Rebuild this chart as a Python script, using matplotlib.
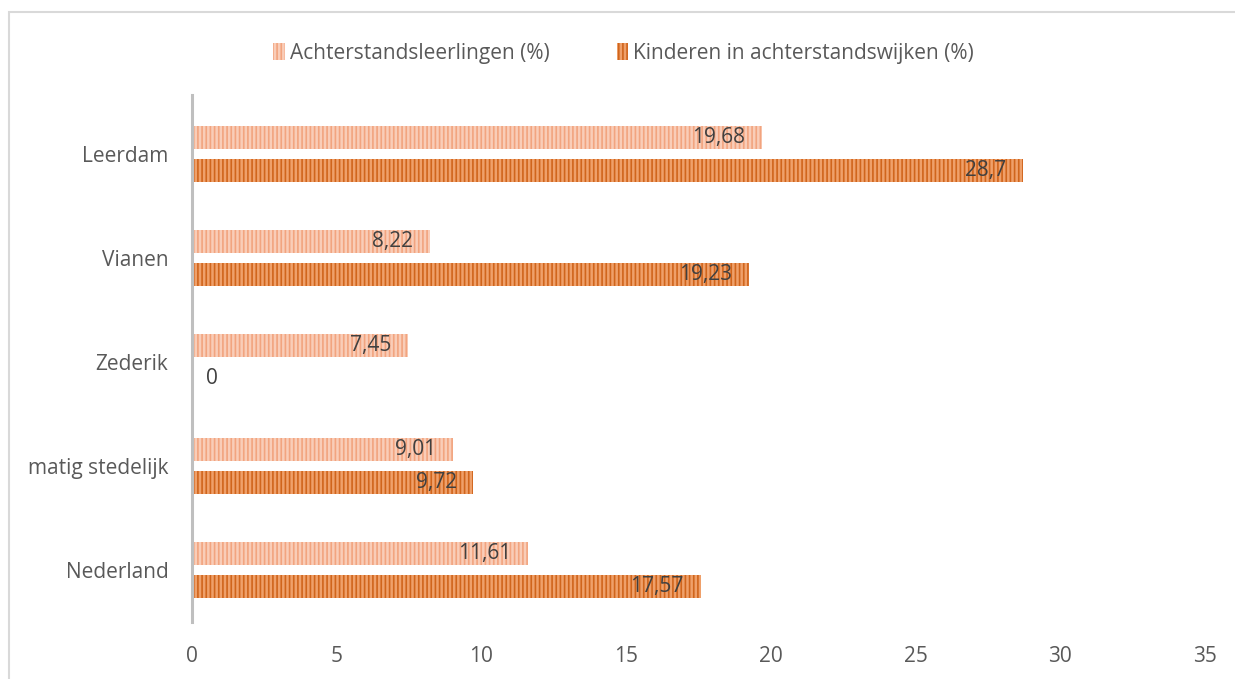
import matplotlib.pyplot as plt
import matplotlib.patches as mpatches
import numpy as np

plt.rcParams['font.family'] = ['Open Sans', 'DejaVu Sans']
plt.rcParams['hatch.linewidth'] = 1.2

categories = ['Leerdam', 'Vianen', 'Zederik', 'matig stedelijk', 'Nederland']
leerlingen = [19.68, 8.22, 7.45, 9.01, 11.61]
wijken = [28.7, 19.23, 0, 9.72, 17.57]
leerlingen_labels = ['19,68', '8,22', '7,45', '9,01', '11,61']
wijken_labels = ['28,7', '19,23', '0', '9,72', '17,57']

fig = plt.figure(figsize=(12.35, 6.79), dpi=100)
ax = fig.add_axes([0.1555, 0.0839, 0.8202, 0.7762])

# frame round the chart
fig.patches.append(mpatches.Rectangle((9 / 1235, -0.1), 1.2, 1 - 12 / 679 + 0.1,
                                      transform=fig.transFigure, fill=False,
                                      edgecolor='#D9D9D9', linewidth=1.5))

y = np.arange(len(categories))[::-1]
h = 0.22
off = 0.155

b1 = ax.barh(y + off, leerlingen, height=h, color='#F9CDB8', edgecolor='#F2A47F',
             hatch='||||', linewidth=0, label='Achterstandsleerlingen (%)')
b2 = ax.barh(y - off, wijken, height=h, color='#EFA06A', edgecolor='#D0651C',
             hatch='||||', linewidth=0, label='Kinderen in achterstandswijken (%)')

for bars, labels in [(b1, leerlingen_labels), (b2, wijken_labels)]:
    for bar, lab in zip(bars, labels):
        w = bar.get_width()
        yc = bar.get_y() + bar.get_height() / 2
        if w > 0:
            ax.annotate(lab, (w, yc), xytext=(-12, 0), textcoords='offset points',
                        ha='right', va='center', fontsize=15, color='#404040')
        else:
            ax.annotate(lab, (w, yc), xytext=(10, 0), textcoords='offset points',
                        ha='left', va='center', fontsize=15, color='#404040')

ax.set_xlim(0, 35)
ax.set_ylim(-0.5, 4.567)
ax.set_xticks(range(0, 36, 5))
ax.set_yticks(y)
ax.set_yticklabels(categories)
ax.tick_params(length=0, labelsize=15, colors='#595959')
ax.tick_params(axis='x', pad=17)
ax.tick_params(axis='y', pad=17)
for s in ['top', 'right', 'bottom']:
    ax.spines[s].set_visible(False)
ax.spines['left'].set_color('#BFBFBF')
ax.spines['left'].set_linewidth(2.2)

fig.legend(handles=[b1, b2], loc='center', bbox_to_anchor=(0.505, 1 - 53 / 679), ncol=2,
           frameon=False, fontsize=15, handlelength=0.55, handleheight=0.9,
           handletextpad=0.25, columnspacing=3.2, labelcolor='#595959')

plt.savefig('out.png', dpi=100)
